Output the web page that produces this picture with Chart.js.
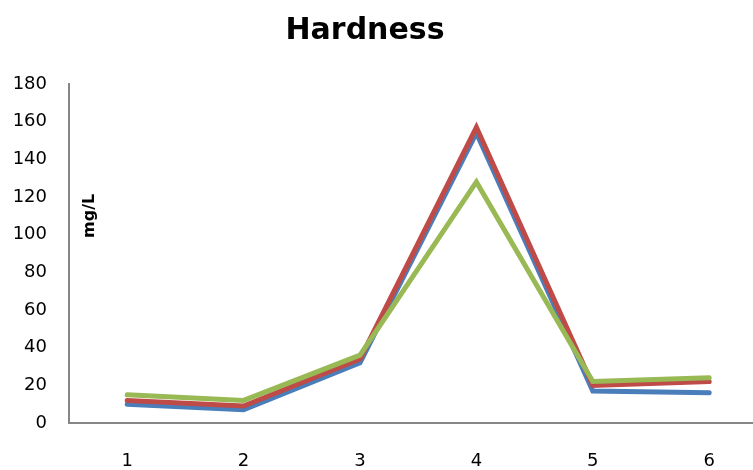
<!DOCTYPE html>
<html>
<head>
<meta charset="utf-8">
<script src="https://cdn.jsdelivr.net/npm/chart.js@4"></script>
<style>
  html, body { margin: 0; padding: 0; background: #fff; }
  #wrap { width: 753px; height: 470px; position: relative; }
</style>
</head>
<body>
<div id="wrap"><canvas id="hardnessChart"></canvas></div>
<script>
const SITES = [1, 2, 3, 4, 5, 6];
const BLUE_SERIES = [10, 7, 32, 154, 17, 16];
const RED_SERIES = [12, 9, 34, 157, 20, 22];
const GREEN_SERIES = [15, 12, 36, 128, 22, 24];
const Y_TICKS = [0, 20, 40, 60, 80, 100, 120, 140, 160, 180];

const FONT = "'DejaVu Sans', sans-serif";

function toPoints(values) {
    return values.map(function(v, i) { return { x: SITES[i], y: v }; });
}

/* title and y-axis title are placed by hand: the title is a bit left of
   centre and the axis title sits inside the plot, right of the axis line */
const chartTexts = {
    id: 'chartTexts',
    afterDraw: function(chart) {
        const ctx = chart.ctx;
        const y = chart.scales.y;
        ctx.save();
        ctx.fillStyle = '#000';
        ctx.textAlign = 'center';
        ctx.textBaseline = 'alphabetic';
        ctx.font = 'bold 30px ' + FONT;
        ctx.fillText('Hardness', 365, 39);

        ctx.translate(90, y.getPixelForValue(110));
        ctx.rotate(-Math.PI / 2);
        ctx.font = 'bold 16px ' + FONT;
        ctx.textBaseline = 'middle';
        ctx.fillText('mg/L', 0, 0);
        ctx.restore();
    }
};

function lineSet(label, values, color, order) {
    return {
        label: label,
        data: toPoints(values),
        order: order,
        borderColor: color,
        backgroundColor: color,
        borderWidth: 5,
        borderCapStyle: 'round',
        pointRadius: 0,
        tension: 0,
        fill: false
    };
}

new Chart(document.getElementById('hardnessChart'), {
    type: 'line',
    data: {
        datasets: [
            lineSet('Series1', BLUE_SERIES, '#4a7ebb', 3),
            lineSet('Series2', RED_SERIES, '#be4b48', 2),
            lineSet('Series3', GREEN_SERIES, '#98b954', 1)
        ]
    },
    options: {
        responsive: true,
        maintainAspectRatio: false,
        animation: false,
        layout: { padding: { left: 0, right: 0, top: 84, bottom: 0 } },
        plugins: {
            legend: { display: false },
            tooltip: { enabled: false },
            title: { display: false }
        },
        scales: {
            x: {
                type: 'linear',
                min: 0.5,
                max: 0.5 + (753 - 69) / 116.4,
                afterFit: function(s) { s.height = 47; },
                afterBuildTicks: function(s) {
                    s.ticks = SITES.map(function(v) { return { value: v }; });
                },
                grid: { display: false, drawTicks: false },
                border: { display: true, color: '#868686', width: 2 },
                ticks: {
                    color: '#000',
                    padding: 28,
                    maxRotation: 0,
                    font: { family: FONT, size: 18 },
                    callback: function(v) { return String(v); }
                }
            },
            y: {
                min: 0,
                max: 180,
                afterFit: function(s) { s.width = 69; },
                afterBuildTicks: function(s) {
                    s.ticks = Y_TICKS.map(function(v) { return { value: v }; });
                },
                grid: { display: false, drawTicks: false },
                border: { display: true, color: '#868686', width: 2 },
                ticks: {
                    color: '#000',
                    padding: 22,
                    font: { family: FONT, size: 18 }
                }
            }
        }
    },
    plugins: [chartTexts]
});
</script>
</body>
</html>
